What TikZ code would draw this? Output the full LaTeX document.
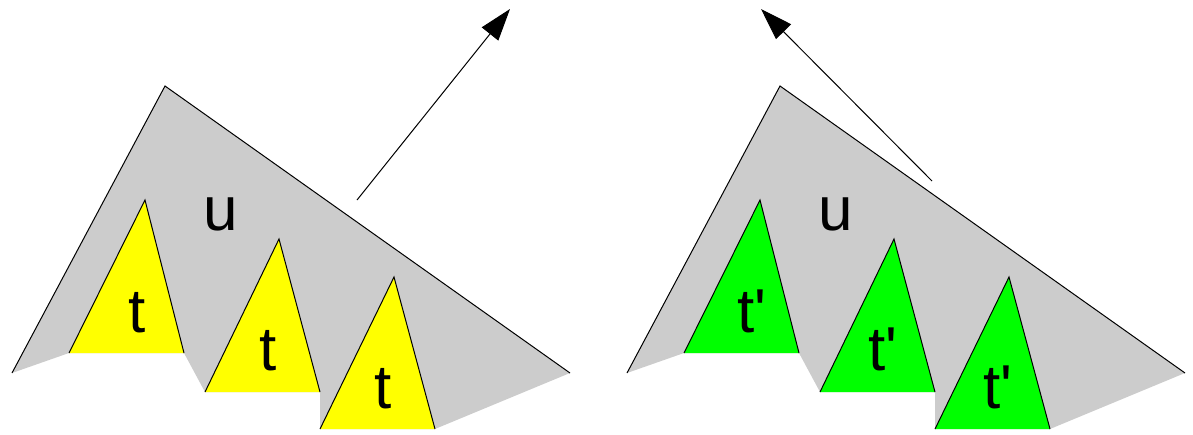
\documentclass[tikz,border=0pt]{standalone}
\usepackage{fontspec}
\setmainfont{Liberation Sans}
\definecolor{treegray}{HTML}{CCCCCC}
\definecolor{subyellow}{HTML}{FFFF00}
\definecolor{subgreen}{HTML}{00FF00}
\usetikzlibrary{arrows.meta}
\tikzset{
  treebody/.style={fill=treegray},
  treeedge/.style={draw=black, line width=0.5pt, line join=miter},
  lbl/.style={font=\fontsize{31}{36}\selectfont, inner sep=0pt, anchor=base},
  pointer/.style={-{Triangle[length=16pt,width=10.5pt]}, line width=0.5pt}
}
\begin{document}
\begin{tikzpicture}[x=0.5pt, y=-0.5pt]
  \useasboundingbox (0,0) rectangle (1193,434);
  % two trees: u with subtrees t, then u with subtrees t'
  \foreach \dx/\col/\lab [count=\k] in {0/subyellow/t, 615/subgreen/t\textquotesingle} {
    \begin{scope}[shift={(\dx,0)}]
      \fill[treebody] (12,373) -- (165,86) -- (570,373) -- (435,429) -- (320,429)
        -- (320,392) -- (205,392) -- (184,353) -- (69,353) -- cycle;
      \draw[treeedge] (12,373) -- (165,86) -- (570,373);
      \node[lbl] (u\k) at (221,230) {u};
      \foreach \ax/\ay/\lx/\rx/\by/\tx/\ty [count=\j] in
          {145/200/69/184/353/137/332, 279/239/205/320/392/268/370, 394/277/320/435/429/383/408} {
        \fill[\col] (\lx,\by) -- (\ax,\ay) -- (\rx,\by) -- cycle;
        \draw[treeedge] (\lx,\by) -- (\ax,\ay) -- (\rx,\by);
        \node[lbl] (t\k-\j) at (\tx,\ty) {\lab};
      }
    \end{scope}
  }
  \coordinate (tailA) at (357,200);
  \coordinate (tipA) at (510,9);
  \coordinate (tailB) at (932,181);
  \coordinate (tipB) at (761,9);
  \draw[pointer] (tailA) -- (tipA);
  \draw[pointer] (tailB) -- (tipB);
\end{tikzpicture}
\end{document}
